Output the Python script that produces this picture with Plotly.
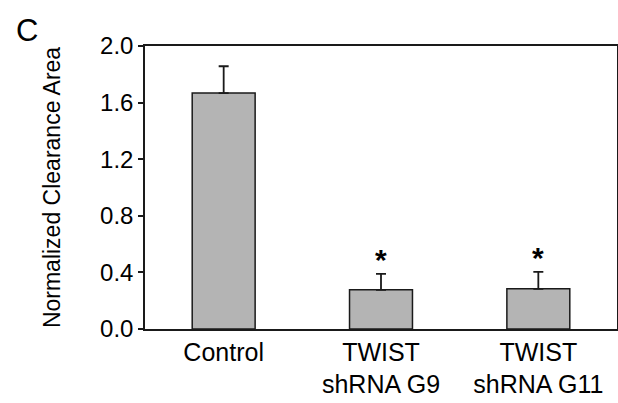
import plotly.graph_objects as go

categories = ["Control", "TWIST<br>shRNA G9", "TWIST<br>shRNA G11"]
means = [1.667, 0.277, 0.284]
errors = [0.19, 0.113, 0.12]
significant = [False, True, True]
y_ticks = [0.0, 0.4, 0.8, 1.2, 1.6, 2.0]
y_tick_labels = ["0.0", "0.4", "0.8", "1.2", "1.6", "2.0"]

FONT = "Arial, Liberation Sans, Helvetica, sans-serif"

fig = go.Figure()
fig.add_trace(go.Bar(
    x=categories, y=means,
    marker=dict(color="#b4b4b4", line=dict(color="#1a1a1a", width=1.5)),
    error_y=dict(type="data", array=errors, arrayminus=[0]*len(errors), symmetric=False,
                 color="#1a1a1a", thickness=1.8, width=5),
    width=0.4,
))

for cat, m, e, s in zip(categories, means, errors, significant):
    if s:
        fig.add_annotation(x=cat, y=m + e, text="<b>*</b>", showarrow=False,
                           yanchor="bottom", yshift=-4,
                           font=dict(family=FONT, size=30, color="black"))

fig.add_annotation(xref="paper", yref="paper", x=-0.25, y=1.0, xanchor="center", yanchor="bottom",
                   text="C", showarrow=False, yshift=-4,
                   font=dict(family=FONT, size=31, color="black"))

fig.update_layout(
    width=618, height=403,
    margin=dict(l=145, r=1, t=46, b=74),
    plot_bgcolor="white", paper_bgcolor="white",
    showlegend=False,
    font=dict(family=FONT, color="black"),
)
fig.update_xaxes(
    automargin=False,
    showline=True, linecolor="#1a1a1a", linewidth=1.5, mirror=True,
    ticks="",
    tickfont=dict(family=FONT, size=25, color="black"),
    showgrid=False, zeroline=False,
)
fig.update_yaxes(
    automargin=False,
    range=[0, 2.0],
    tickvals=y_ticks, ticktext=y_tick_labels,
    showline=True, linecolor="#1a1a1a", linewidth=1.5, mirror=True,
    ticks="outside", ticklen=5, tickwidth=1.5, tickcolor="#1a1a1a",
    tickfont=dict(family=FONT, size=24, color="black"),
    title=dict(text="Normalized Clearance Area", font=dict(family=FONT, size=23, color="black"), standoff=33),
    showgrid=False, zeroline=False,
)

fig.write_html("out.html")
